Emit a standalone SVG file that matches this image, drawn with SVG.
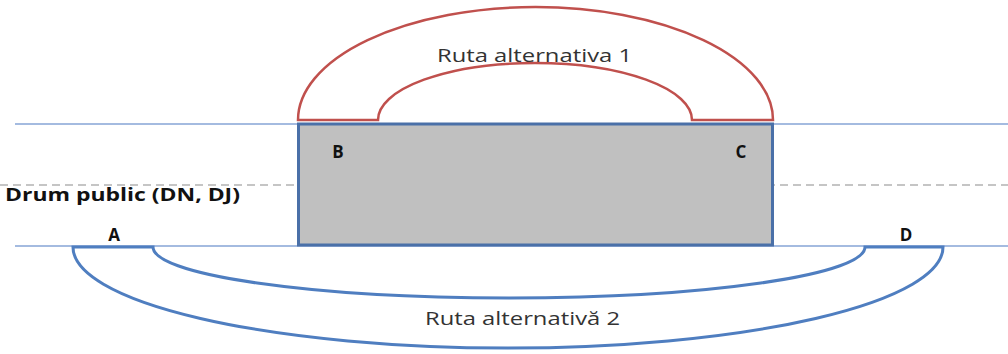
<svg xmlns="http://www.w3.org/2000/svg" width="1008" height="354" viewBox="0 0 1008 354">
<style>
.road{stroke:#86a4d6;stroke-width:1.6;fill:none}
.dash{stroke:#8c8c8c;stroke-width:1.2;stroke-dasharray:8 5;fill:none}
.lbl{font-family:"Open Sans","Liberation Sans",sans-serif;font-size:19px;fill:#333333}
.pt{font-family:"Open Sans","Liberation Sans",sans-serif;font-size:17px;font-weight:bold;fill:#111111}
</style>
<rect width="1008" height="354" fill="#ffffff"/>
<g id="connectors">
<line class="road" x1="15" y1="124" x2="1008" y2="124"/>
<line class="dash" x1="0" y1="185" x2="1008" y2="185"/>
<line class="road" x1="15" y1="246" x2="1008" y2="246"/>
</g>
<g id="zone">
<rect x="298.5" y="124" width="474" height="121" fill="#c0c0c0" stroke="#4a70a8" stroke-width="3"/>
</g>
<g id="route1">
<path d="M298,120 A237.5,113 0 0 1 773,120 L692,120 A157,57 0 0 0 378,120 Z" fill="#ffffff" stroke="#c0504d" stroke-width="2.5"/>
<text class="lbl" x="437" y="62" textLength="195" lengthAdjust="spacingAndGlyphs">Ruta alternativa 1</text>
</g>
<g id="route2">
<path d="M73,247 A435,101 0 0 0 943,247 L865,247 A356,51 0 0 1 153,247 Z" fill="none" stroke="#4f7ec0" stroke-width="3"/>
<text class="lbl" x="425" y="325" textLength="195" lengthAdjust="spacingAndGlyphs">Ruta alternativă 2</text>
</g>
<g id="road-label">
<text class="pt" x="5" y="201" textLength="235" lengthAdjust="spacingAndGlyphs">Drum public (DN, DJ)</text>
</g>
<g id="point-B"><text class="pt" x="338" y="158" text-anchor="middle">B</text></g>
<g id="point-C"><text class="pt" x="741" y="158" text-anchor="middle">C</text></g>
<g id="point-A"><text class="pt" x="114" y="241" text-anchor="middle">A</text></g>
<g id="point-D"><text class="pt" x="906" y="241" text-anchor="middle">D</text></g>
</svg>
